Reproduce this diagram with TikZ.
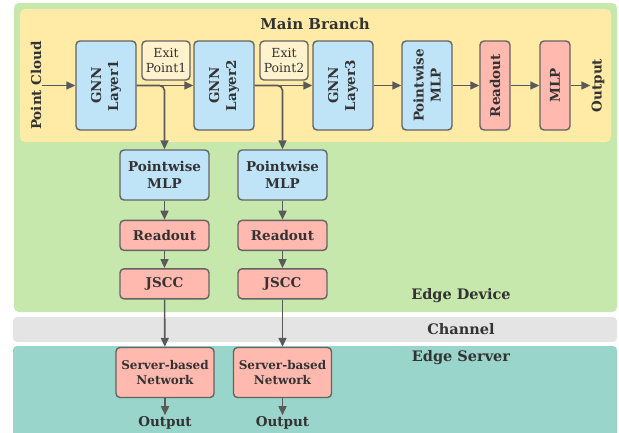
\documentclass[tikz,border=0pt]{standalone}
\usepackage{fontspec}
\setmainfont{DejaVu Serif}
\usetikzlibrary{arrows.meta, positioning}
\definecolor{devicegreen}{RGB}{198,232,172}
\definecolor{branchyellow}{RGB}{255,234,166}
\definecolor{layerblue}{RGB}{191,227,247}
\definecolor{headred}{RGB}{255,185,175}
\definecolor{exityellow}{RGB}{255,242,204}
\definecolor{channelgray}{RGB}{228,228,228}
\definecolor{serverteal}{RGB}{153,213,202}
\definecolor{edgegray}{RGB}{100,100,100}
\definecolor{arrowgray}{RGB}{90,90,90}
\definecolor{textgray}{RGB}{51,51,51}

\begin{document}
\begin{tikzpicture}[
        x=1pt, y=-1pt,
        node distance=19pt,
        box/.style={rectangle, draw=edgegray, line width=1.4pt, rounded corners=4pt, align=center, text=textgray, inner sep=2pt, font=\bfseries\fontsize{13.5}{17}\selectfont},
        layer/.style={box, fill=layerblue, rotate=90, minimum width=89pt, minimum height=60pt},
        head/.style={box, fill=headred, rotate=90, minimum width=89pt, minimum height=30pt},
        exitbox/.style={box, fill=exityellow, minimum width=48pt, minimum height=39pt, font=\fontsize{12.5}{15}\selectfont},
        branch/.style={box, minimum width=89pt},
        label/.style={text=textgray, inner sep=1pt, font=\bfseries\fontsize{13.5}{15}\selectfont},
        region/.style={text=textgray, font=\bfseries\fontsize{14.5}{16}\selectfont},
        arrow/.style={draw=arrowgray, line width=1.6pt, -{Triangle[length=9pt, width=8pt]}}
    ]
        \useasboundingbox (0,0) rectangle (619,432);
        \fill[devicegreen, rounded corners=5pt] (14,3) rectangle (617,312);
        \fill[branchyellow, rounded corners=5pt] (20,9) rectangle (611,142);
        \fill[channelgray, rounded corners=4pt] (13,317) rectangle (617,342);
        \fill[serverteal, rounded corners=4pt] (13,346) rectangle (617,440);

        \node[region, font=\bfseries\fontsize{15}{17}\selectfont] (branchtitle) at (315,24) {Main Branch};
        \node[region] (devicetitle) at (461,296) {Edge Device};
        \node[region] (channeltitle) at (461,329) {Channel};
        \node[region] (servertitle) at (461,358) {Edge Server};

        \node[label, rotate=90] (cloud) at (36,85.5) {Point Cloud};
        \node[layer] (gnn1) at (106,85.5) {GNN\\Layer1};
        \node[exitbox] (exit1) at (166,60.5) {Exit\\Point1};
        \node[layer] (gnn2) at (224,85.5) {GNN\\Layer2};
        \node[exitbox] (exit2) at (284,60.5) {Exit\\Point2};
        \node[layer] (gnn3) at (343,85.5) {GNN\\Layer3};
        \node[layer, minimum height=50pt] (pmlp) at (427,85.5) {Pointwise\\MLP};
        \node[head] (readout) at (495,85.5) {Readout};
        \node[head] (mlp) at (555,85.5) {MLP};
        \node[label, rotate=90] (result) at (598,85.5) {Output};

        \node[branch, fill=layerblue, minimum height=50pt] (bmlp1) at (164.5,175) {Pointwise\\MLP};
        \node[branch, fill=headred, minimum height=30pt, below=of bmlp1] (bread1) {Readout};
        \node[branch, fill=headred, minimum height=30pt, below=17pt of bread1] (jscc1) {JSCC};
        \node[branch, fill=headred, minimum width=98pt, minimum height=50pt, font=\bfseries\fontsize{12}{15}\selectfont] (srv1) at (165,372.5) {Server-based\\Network};
        \node[label, below=17pt of srv1] (res1) {Output};

        \node[branch, fill=layerblue, minimum height=50pt] (bmlp2) at (282.5,175) {Pointwise\\MLP};
        \node[branch, fill=headred, minimum height=30pt, below=of bmlp2] (bread2) {Readout};
        \node[branch, fill=headred, minimum height=30pt, below=17pt of bread2] (jscc2) {JSCC};
        \node[branch, fill=headred, minimum width=98pt, minimum height=50pt, font=\bfseries\fontsize{12}{15}\selectfont] (srv2) at (282.5,372.5) {Server-based\\Network};
        \node[label, below=17pt of srv2] (res2) {Output};

        \draw[arrow] (cloud) -- (gnn1);
        \draw[arrow] (gnn1) -- (gnn2);
        \draw[arrow] (gnn2) -- (gnn3);
        \draw[arrow] (gnn3) -- (pmlp);
        \draw[arrow] (pmlp) -- (readout);
        \draw[arrow] (readout) -- (mlp);
        \draw[arrow] (mlp) -- (result);

        \draw[arrow, rounded corners=5pt] (gnn1) -| (bmlp1);
        \draw[arrow, rounded corners=5pt] (gnn2) -| (bmlp2);

        \draw[arrow] (bmlp1) -- (bread1);
        \draw[arrow] (bread1) -- (jscc1);
        \draw[arrow] (jscc1) -- (srv1);
        \draw[arrow] (srv1) -- (res1);
        \draw[arrow] (bmlp2) -- (bread2);
        \draw[arrow] (bread2) -- (jscc2);
        \draw[arrow] (jscc2) -- (srv2);
        \draw[arrow] (srv2) -- (res2);
    \end{tikzpicture}
\end{document}
